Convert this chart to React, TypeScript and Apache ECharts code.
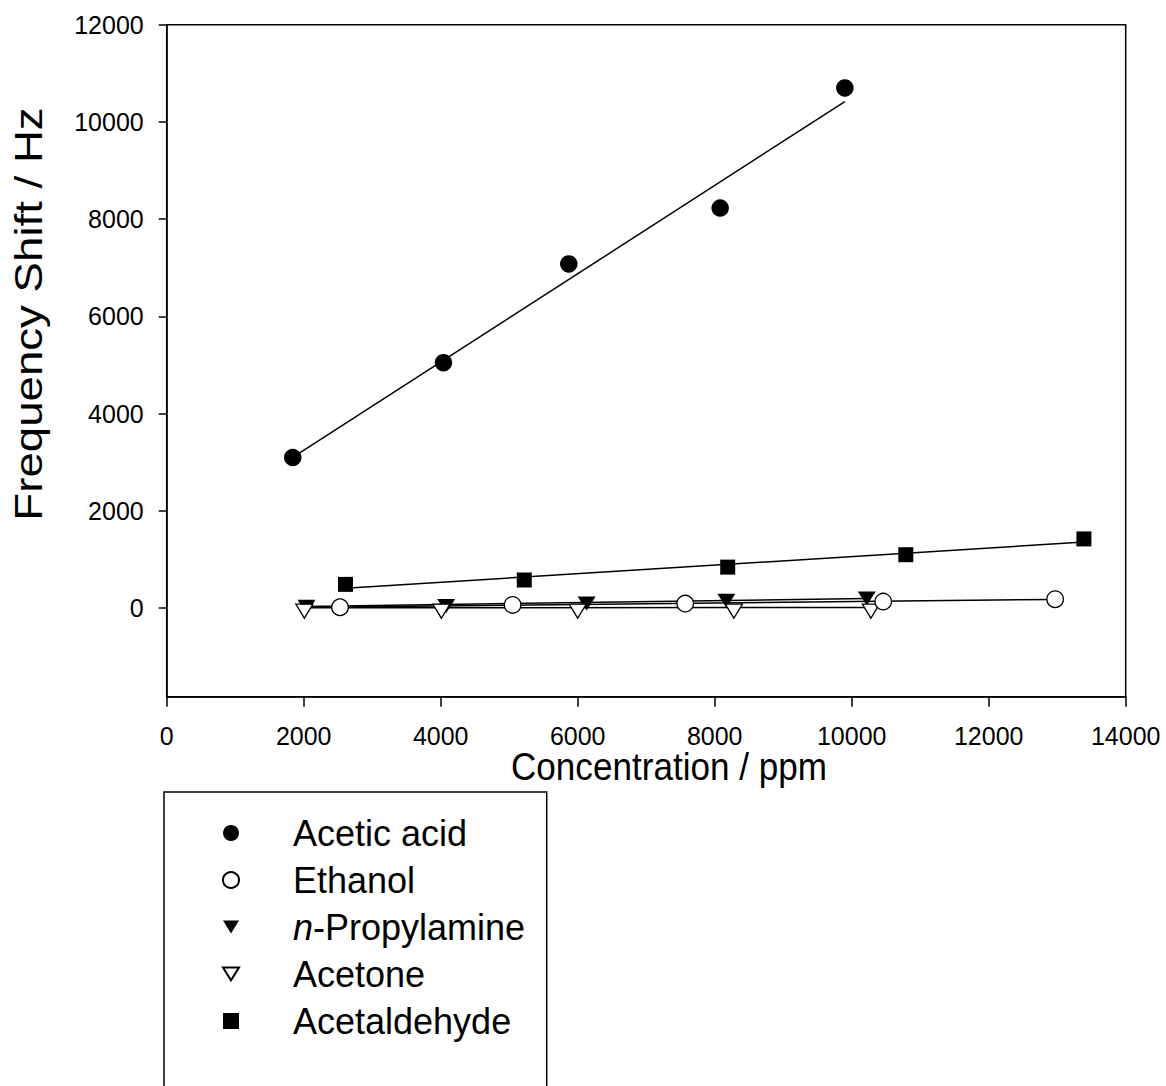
import React, { useEffect, useRef } from "react";
import * as echarts from "echarts";

const FONT = "'Liberation Sans', Arial, Helvetica, sans-serif";

// Series names (legend order)
const NAMES = ["Acetic acid", "Ethanol", "n-Propylamine", "Acetone", "Acetaldehyde"];

// Measured points (Concentration / ppm, Frequency Shift / Hz)
const aceticX = [1840, 4040, 5870, 8080, 9900];
const aceticY = [3100, 5050, 7080, 8230, 10700];

const ethanolX = [2530, 5050, 7570, 10460, 12970];
const ethanolY = [20, 68, 95, 136, 185];

const propylX = [2040, 4080, 6130, 8170, 10220];
const propylY = [30, 45, 95, 155, 200];

const acetoneX = [2010, 4010, 6000, 8280, 10280];
const acetoneY = [0, 0, 0, 0, 0];

const acetaldX = [2610, 5220, 8190, 10790, 13390];
const acetaldY = [490, 580, 845, 1100, 1425];

// Fitted straight lines (end points)
const aceticFit = [[1840, 3100], [9900, 10420]];
const ethanolFit = [[2530, 25], [12970, 180]];
const propylFit = [[2040, 35], [10220, 200]];
const acetoneFit = [[2010, 10], [10280, 15]];
const acetaldFit = [[2610, 410], [13390, 1360]];

// Axis ticks
const xTicks = [0, 2000, 4000, 6000, 8000, 10000, 12000, 14000];
const yTicks = [0, 2000, 4000, 6000, 8000, 10000, 12000];

const zip = (xs: number[], ys: number[]) => xs.map((x, i) => [x, ys[i]]);

const TRI_DOWN = "path://M0,0L20,0L10,16Z";

function buildOption() {
  const filled = { color: "#000", borderColor: "#000", borderWidth: 0, opacity: 1 };
  const open = { color: "#fff", borderColor: "#000", borderWidth: 1.3, opacity: 1 };
  const fitLine = (name: string, data: number[][]) => ({
    name,
    type: "line",
    data,
    symbol: "none",
    showSymbol: false,
    lineStyle: { color: "#000", width: 1.5, opacity: 1 },
    z: 1,
    silent: true,
  });

  return {
    animation: false,
    backgroundColor: "#fff",
    textStyle: { fontFamily: FONT },
    grid: {
      left: 166.7,
      right: 40.3,
      top: 24.7,
      bottom: 389.3,
      show: true,
      borderColor: "#000",
      borderWidth: 1.5,
      backgroundColor: "transparent",
      containLabel: false,
      outerBoundsMode: "none",
    },
    xAxis: {
      type: "value",
      min: 0,
      max: 14000,
      interval: 2000,
      axisLine: { show: true, onZero: false, lineStyle: { color: "#000", width: 1.5 } },
      axisTick: { show: true, inside: false, length: 10, lineStyle: { color: "#000", width: 1.5 } },
      axisLabel: {
        fontSize: 25,
        color: "#000",
        fontFamily: FONT,
        margin: 27,
        customValues: xTicks,
        formatter: (v: number) => String(v),
      },
      splitLine: { show: false },
    },
    yAxis: {
      type: "value",
      min: -1820,
      max: 12000,
      axisLine: { show: true, onZero: false, lineStyle: { color: "#000", width: 1.5 } },
      axisTick: {
        show: true,
        inside: false,
        length: 8,
        lineStyle: { color: "#000", width: 1.5 },
        customValues: yTicks,
      },
      axisLabel: {
        fontSize: 25,
        color: "#000",
        fontFamily: FONT,
        margin: 23,
        customValues: yTicks,
        formatter: (v: number) => String(v),
      },
      splitLine: { show: false },
    },
    legend: {
      orient: "vertical",
      left: 222,
      top: 815,
      padding: 0,
      itemWidth: 16,
      itemHeight: 16,
      itemGap: 11,
      selectedMode: false,
      itemStyle: { opacity: 1 },
      data: [
        { name: NAMES[0], icon: "circle" },
        { name: NAMES[1], icon: "circle" },
        { name: NAMES[2], icon: TRI_DOWN },
        { name: NAMES[3], icon: TRI_DOWN },
        { name: NAMES[4], icon: "path://M0,0L10,0L10,10L0,10Z" },
      ],
      formatter: (name: string) =>
        name === "n-Propylamine" ? "{g| }{i|n}{t|-Propylamine}" : `{g| }{t|${name}}`,
      textStyle: {
        fontFamily: FONT,
        fontSize: 36,
        color: "#000",
        rich: {
          g: { width: 49, fontSize: 36, lineHeight: 40 },
          t: { fontSize: 36, lineHeight: 40, fontFamily: FONT, color: "#000" },
          i: { fontSize: 36, lineHeight: 40, fontFamily: FONT, color: "#000", fontStyle: "italic" },
        },
      },
    },
    graphic: [
      {
        type: "rect",
        shape: { x: 164, y: 792, width: 382.7, height: 420 },
        style: { fill: "none", stroke: "#000", lineWidth: 1.5 },
        silent: true,
      },
      {
        type: "text",
        x: 669,
        y: 766.5,
        scaleX: 0.9,
        style: {
          text: "Concentration / ppm",
          fontFamily: FONT,
          fontSize: 39,
          fill: "#000",
          align: "center",
          verticalAlign: "middle",
        },
        silent: true,
      },
      {
        type: "text",
        x: 28.5,
        y: 314,
        rotation: Math.PI / 2,
        scaleX: 1.17,
        style: {
          text: "Frequency Shift / Hz",
          fontFamily: FONT,
          fontSize: 39,
          fill: "#000",
          align: "center",
          verticalAlign: "middle",
        },
        silent: true,
      },
    ],
    series: [
      fitLine("Acetic acid fit", aceticFit),
      fitLine("Ethanol fit", ethanolFit),
      fitLine("n-Propylamine fit", propylFit),
      fitLine("Acetone fit", acetoneFit),
      fitLine("Acetaldehyde fit", acetaldFit),
      {
        name: NAMES[4],
        type: "scatter",
        data: zip(acetaldX, acetaldY),
        symbol: "rect",
        symbolSize: 15,
        itemStyle: filled,
        z: 3,
      },
      {
        name: NAMES[2],
        type: "scatter",
        data: zip(propylX, propylY),
        symbol: "triangle",
        symbolRotate: 180,
        symbolSize: [18, 14],
        itemStyle: filled,
        z: 3,
      },
      {
        name: NAMES[3],
        type: "scatter",
        data: zip(acetoneX, acetoneY),
        symbol: "triangle",
        symbolRotate: 180,
        symbolSize: [17, 14],
        symbolOffset: [0, 3],
        itemStyle: open,
        z: 4,
      },
      {
        name: NAMES[1],
        type: "scatter",
        data: zip(ethanolX, ethanolY),
        symbol: "circle",
        symbolSize: 16.5,
        itemStyle: open,
        z: 4,
      },
      {
        name: NAMES[0],
        type: "scatter",
        data: zip(aceticX, aceticY),
        symbol: "circle",
        symbolSize: 17.5,
        itemStyle: filled,
        z: 3,
      },
    ],
  };
}

export default function App() {
  const ref = useRef<HTMLDivElement>(null);
  useEffect(() => {
    if (!ref.current) return;
    const chart = echarts.init(ref.current, null, { renderer: "svg" });
    chart.setOption(buildOption() as any);
    return () => chart.dispose();
  }, []);
  return (
    <div
      ref={ref}
      style={{ position: "fixed", left: 0, top: 0, width: 1166, height: 1086, background: "#fff" }}
    />
  );
}
